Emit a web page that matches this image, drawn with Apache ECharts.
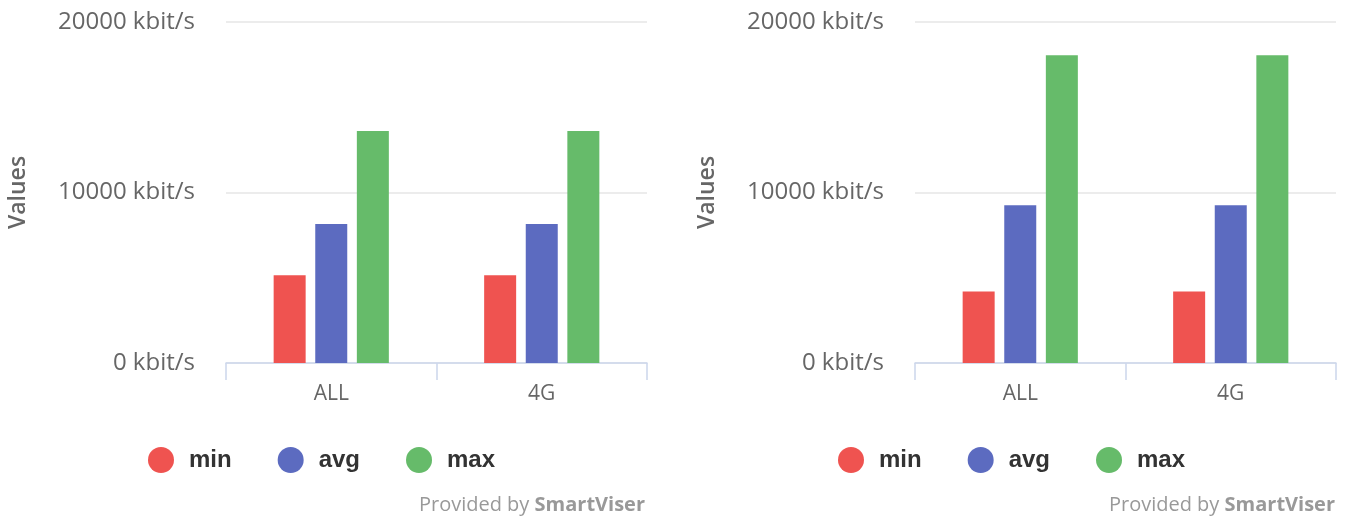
<!DOCTYPE html>
<html>
<head>
<meta charset="utf-8">
<script src="https://cdn.jsdelivr.net/npm/echarts@6/dist/echarts.min.js"></script>
<style>
  html, body { margin: 0; padding: 0; background: #fff; }
  #chart { width: 1354px; height: 517px; }
</style>
</head>
<body>
<div id="chart"></div>
<script>
// data
const categories = ["ALL", "4G"];
const seriesNames = ["min", "avg", "max"];
const leftMin = [5150, 5150];
const leftAvg = [8150, 8150];
const leftMax = [13600, 13600];
const rightMin = [4200, 4200];
const rightAvg = [9250, 9250];
const rightMax = [18050, 18050];
const yTicks = [0, 10000, 20000];

const colors = ["#ef5350", "#5c6bc0", "#66bb6a"];
const labelFont = "'Open Sans', 'DejaVu Sans', sans-serif";

const makeGrid = (left, right) => ({ left: left, right: right, top: 22, bottom: 154 });

const makeX = (idx) => ({
  type: "category",
  gridIndex: idx,
  data: categories,
  axisLine: { lineStyle: { color: "#ccd6eb", width: 1.5 } },
  axisTick: { show: true, length: 17, lineStyle: { color: "#ccd6eb", width: 1.5 } },
  axisLabel: { color: "#666", fontSize: 21, fontFamily: labelFont, margin: 21 }
});

const makeY = (idx) => ({
  type: "value",
  gridIndex: idx,
  min: yTicks[0],
  max: yTicks[yTicks.length - 1],
  interval: 10000,
  name: "Values",
  nameLocation: "middle",
  nameRotate: 90,
  nameGap: 196,
  nameTextStyle: { color: "#666", fontSize: 23, fontWeight: 600, fontFamily: labelFont },
  axisLine: { show: false },
  axisTick: { show: false },
  splitLine: { lineStyle: { color: "#e6e6e6", width: 1.5 } },
  axisLabel: {
    color: "#666",
    fontSize: 24,
    fontFamily: labelFont,
    margin: 31,
    formatter: (v) => v + " kbit/s"
  }
});

const makeBars = (idx, vals) =>
  vals.map((v, i) => ({
    name: seriesNames[i],
    type: "bar",
    xAxisIndex: idx,
    yAxisIndex: idx,
    data: v,
    barWidth: 32,
    barGap: "30%",
    itemStyle: { color: colors[i] }
  }));

const makeLegend = (left) => ({
  left: left,
  top: 447,
  padding: 0,
  icon: "circle",
  itemWidth: 46,
  itemHeight: 26,
  itemGap: 46,
  data: seriesNames,
  textStyle: {
    color: "#333",
    fontSize: 24,
    fontWeight: "bold",
    fontFamily: "'Liberation Sans', Arial, sans-serif"
  }
});

const makeCredit = (right) => ({
  text: "Provided by {b|SmartViser}",
  right: right,
  top: 495,
  padding: 0,
  textStyle: {
    color: "#999",
    fontSize: 20,
    fontWeight: "normal",
    fontFamily: labelFont,
    rich: {
      b: { color: "#999", fontSize: 20, fontWeight: "bold", fontFamily: labelFont }
    }
  }
});

const myChart = echarts.init(document.getElementById("chart"));
const option = {
  animation: false,
  color: colors,
  title: [makeCredit(709), makeCredit(19)],
  legend: [makeLegend(148), makeLegend(838)],
  grid: [makeGrid(226, 707), makeGrid(915, 18)],
  xAxis: [makeX(0), makeX(1)],
  yAxis: [makeY(0), makeY(1)],
  series: [
    ...makeBars(0, [leftMin, leftAvg, leftMax]),
    ...makeBars(1, [rightMin, rightAvg, rightMax])
  ]
};
myChart.setOption(option);
</script>
</body>
</html>
